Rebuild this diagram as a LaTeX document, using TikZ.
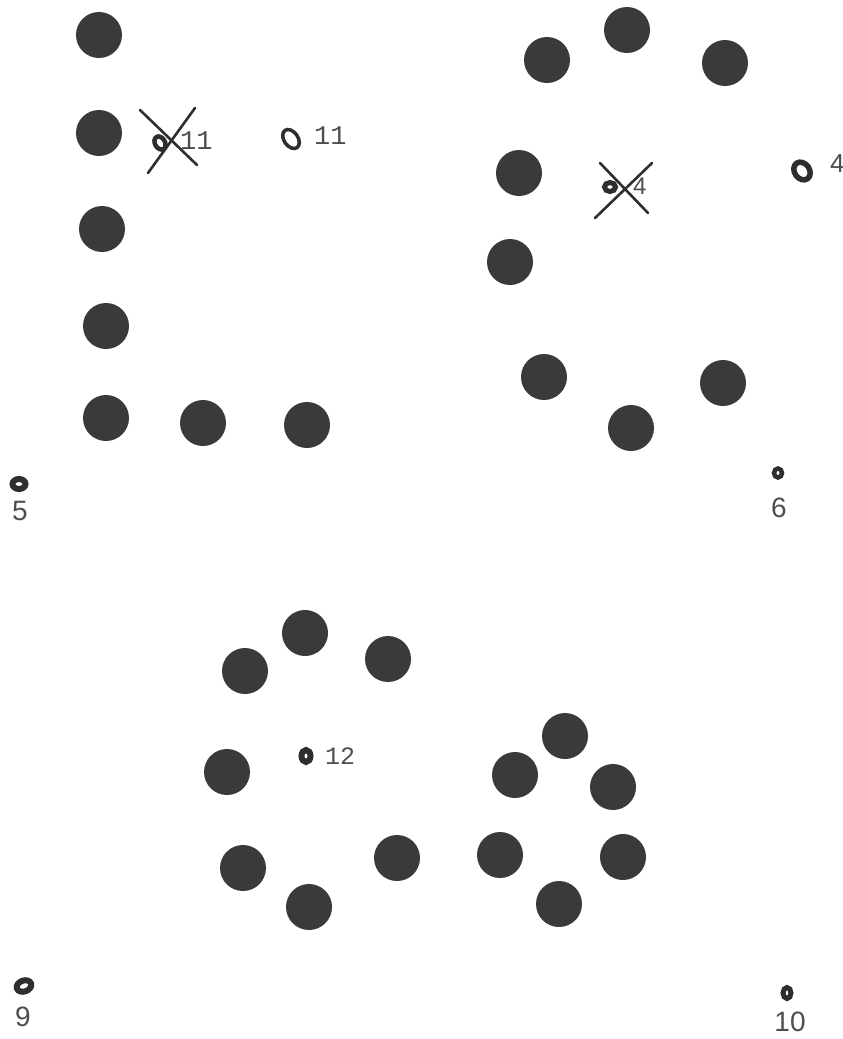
\documentclass[tikz,border=0pt]{standalone}
\usepackage{fontspec}
\newfontfamily\tw{Liberation Mono}
\newfontfamily\hs{Liberation Sans}
\definecolor{dotc}{HTML}{3A3A3A}
\definecolor{penc}{HTML}{2E2E2E}
\definecolor{labc}{HTML}{4E4E4E}
\tikzset{
  dot/.style={circle,fill=dotc,minimum size=46pt,inner sep=0pt},
  pen/.style={draw=penc,line width=5pt},
  xline/.style={draw=penc,line width=2.6pt,line cap=round},
  twlab/.style={text=labc,font=\tw\fontsize{27}{27}\selectfont,inner sep=0pt},
  hslab/.style={text=labc,font=\hs\fontsize{28}{28}\selectfont,inner sep=0pt}
}
\begin{document}
\begin{tikzpicture}[x=1pt,y=-1pt]
\useasboundingbox (0,0) rectangle (843,1039);
\fill[white] (0,0) rectangle (843,1039);
% L shape (top left)
\node[dot] (a1) at (99,35) {};
\node[dot] (a2) at (99,133) {};
\node[dot] (a3) at (102,229) {};
\node[dot] (a4) at (106,326) {};
\node[dot] (a5) at (106,418) {};
\node[dot] (a6) at (203,423) {};
\node[dot] (a7) at (307,425) {};
% C shape (top right)
\node[dot] (b1) at (547,60) {};
\node[dot] (b2) at (627,30) {};
\node[dot] (b3) at (725,63) {};
\node[dot] (b4) at (519,173) {};
\node[dot] (b5) at (510,262) {};
\node[dot] (b6) at (544,377) {};
\node[dot] (b7) at (631,428) {};
\node[dot] (b8) at (723,383) {};
% ring (bottom left)
\node[dot] (c1) at (305,633) {};
\node[dot] (c2) at (388,659) {};
\node[dot] (c3) at (245,671) {};
\node[dot] (c4) at (227,772) {};
\node[dot] (c5) at (243,868) {};
\node[dot] (c6) at (309,907) {};
\node[dot] (c7) at (397,858) {};
% triangle (bottom right)
\node[dot] (d1) at (565,736) {};
\node[dot] (d2) at (515,775) {};
\node[dot] (d3) at (613,787) {};
\node[dot] (d4) at (500,855) {};
\node[dot] (d5) at (623,857) {};
\node[dot] (d6) at (559,904) {};
% small markers
\draw[pen,line width=4.5pt,rotate around={30:(160,143)}] (160,143) ellipse[x radius=5pt,y radius=7pt];
\node[twlab,anchor=west] (l11a) at (180,141) {11};
\coordinate (xa1) at (140,110); \coordinate (xa2) at (197,165);
\coordinate (xa3) at (195,108); \coordinate (xa4) at (148,173);
\draw[xline] (xa1) -- (xa2); \draw[xline] (xa3) -- (xa4);
\draw[pen,line width=3.5pt,rotate around={35:(291,139)}] (291,139) ellipse[x radius=7pt,y radius=10.5pt];
\node[twlab,anchor=west] (l11b) at (314,136) {11};
\draw[pen] (610,187) ellipse[x radius=5.5pt,y radius=4.5pt];
\node[hslab,font=\hs\fontsize{24}{24}\selectfont,anchor=west] (l4a) at (633,186) {4};
\coordinate (xb1) at (600,163); \coordinate (xb2) at (648,213);
\coordinate (xb3) at (652,163); \coordinate (xb4) at (595,218);
\draw[xline] (xb1) -- (xb2); \draw[xline] (xb3) -- (xb4);
\draw[pen,line width=5.5pt,rotate around={35:(802,171)}] (802,171) ellipse[x radius=7.5pt,y radius=9.5pt];
\node[hslab,font=\hs\fontsize{26}{26}\selectfont,anchor=west] (l4b) at (830,164) {4};
\draw[pen,line width=6pt] (19,484) ellipse[x radius=6.5pt,y radius=5pt];
\node[hslab] (l5) at (20,511) {5};
\draw[pen,line width=4.5pt] (778,473) ellipse[x radius=4pt,y radius=4.5pt];
\node[hslab] (l6) at (779,508) {6};
\draw[pen,line width=6pt] (306,756) ellipse[x radius=4.5pt,y radius=6pt];
\node[twlab,font=\tw\fontsize{25}{25}\selectfont,anchor=west] (l12) at (325,756) {12};
\draw[pen,line width=6pt,rotate around={20:(24,986)}] (24,986) ellipse[x radius=7.5pt,y radius=5.5pt];
\node[hslab] (l9) at (23,1017) {9};
\draw[pen,line width=5pt] (787,993) ellipse[x radius=4pt,y radius=5.5pt];
\node[hslab] (l10) at (790,1022) {10};
\end{tikzpicture}
\end{document}
